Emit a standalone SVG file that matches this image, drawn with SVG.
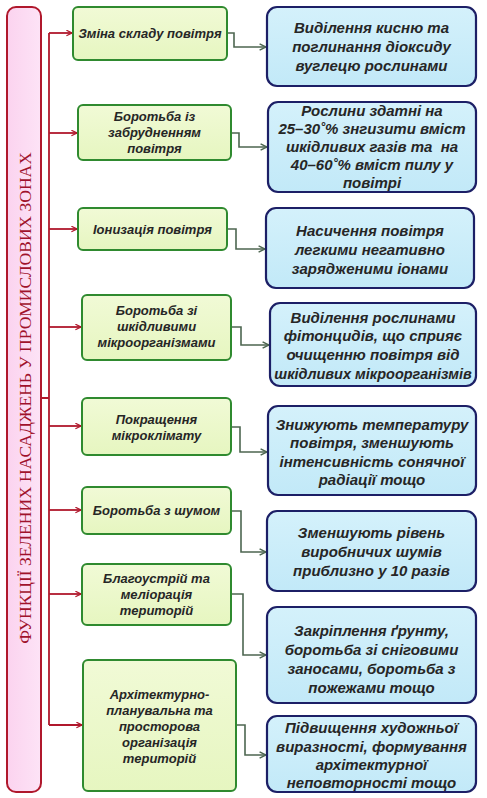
<svg xmlns="http://www.w3.org/2000/svg" width="487" height="798" viewBox="0 0 487 798">
<defs>
<linearGradient id="gG" x1="0" y1="0" x2="0" y2="1"><stop offset="0" stop-color="#f1fad6"/><stop offset="1" stop-color="#e6f6c0"/></linearGradient>
<linearGradient id="gB" x1="0" y1="0" x2="0" y2="1"><stop offset="0" stop-color="#d4f1fb"/><stop offset="1" stop-color="#c2e9f8"/></linearGradient>
<linearGradient id="gP" x1="0" y1="0" x2="1" y2="0"><stop offset="0" stop-color="#fbd3ef"/><stop offset="1" stop-color="#fde3f6"/></linearGradient>
<marker id="ar" viewBox="0 0 10 10" refX="9" refY="5" markerWidth="7" markerHeight="7" markerUnits="userSpaceOnUse" orient="auto"><path d="M1,1 L9,5 L1,9" fill="none" stroke="#b0182c" stroke-width="1.8"/></marker>
<marker id="ag" viewBox="0 0 10 10" refX="9" refY="5" markerWidth="8" markerHeight="8" markerUnits="userSpaceOnUse" orient="auto"><path d="M1,1 L9,5 L1,9" fill="none" stroke="#4d6650" stroke-width="1.8"/></marker>
</defs>
<style>
.g{fill:url(#gG);stroke:#2f8a2f;stroke-width:2}
.b{fill:url(#gB);stroke:#1c1f66;stroke-width:2.2}
.t{font-family:"Liberation Sans","Open Sans",sans-serif;font-style:italic;font-weight:bold;fill:#262626;text-anchor:middle}
.tg{font-size:13px}
.tb{font-size:15px}
.red{fill:none;stroke:#b0182c;stroke-width:1.8}
.gc{fill:none;stroke:#4d6650;stroke-width:1.6}
</style>
<rect width="487" height="798" fill="#ffffff"/>

<g id="title">
<rect x="7" y="7" width="34" height="785" rx="9" fill="url(#gP)" stroke="#b0182c" stroke-width="2"/>
<text x="0" y="0" transform="translate(30.5,398) rotate(-90)" font-family="'Liberation Serif',serif" font-size="17.5" fill="#a0122c" text-anchor="middle">ФУНКЦІЇ ЗЕЛЕНИХ НАСАДЖЕНЬ У ПРОМИСЛОВИХ ЗОНАХ</text>
</g>

<g id="connectors">
<path class="red" d="M41,398 H49 M49,33 V725"/>
<path class="red" marker-end="url(#ar)" d="M49,33 H72"/>
<path class="red" marker-end="url(#ar)" d="M49,133 H77"/>
<path class="red" marker-end="url(#ar)" d="M49,229 H77"/>
<path class="red" marker-end="url(#ar)" d="M49,327 H81"/>
<path class="red" marker-end="url(#ar)" d="M49,426 H81"/>
<path class="red" marker-end="url(#ar)" d="M49,510 H81"/>
<path class="red" marker-end="url(#ar)" d="M49,594 H81"/>
<path class="red" marker-end="url(#ar)" d="M49,725 H82"/>
<path class="gc" marker-end="url(#ag)" d="M227,33 H234 V47 H266"/>
<path class="gc" marker-end="url(#ag)" d="M231,133 H239 V147 H267"/>
<path class="gc" marker-end="url(#ag)" d="M227,229 H236 V249 H265"/>
<path class="gc" marker-end="url(#ag)" d="M231,327 H241 V345 H269"/>
<path class="gc" marker-end="url(#ag)" d="M231,427 H240 V452 H267"/>
<path class="gc" marker-end="url(#ag)" d="M231,511 H241 V552 H266"/>
<path class="gc" marker-end="url(#ag)" d="M231,594 H243 V655 H266"/>
<path class="gc" marker-end="url(#ag)" d="M236,725 H245 V755 H266"/>
</g>

<g id="f1"><rect class="g" x="73" y="7" width="154" height="53" rx="5"/>
<text class="t tg" x="150" y="38">Зміна складу повітря</text></g>
<g id="f2"><rect class="g" x="78" y="105" width="153" height="55" rx="5"/>
<text class="t tg" x="154.5" y="121">Боротьба із</text><text class="t tg" x="154.5" y="137">забрудненням</text><text class="t tg" x="154.5" y="153">повітря</text></g>
<g id="f3"><rect class="g" x="78" y="208" width="149" height="42" rx="5"/>
<text class="t tg" x="152.5" y="234">Іонизація повітря</text></g>
<g id="f4"><rect class="g" x="82" y="295" width="149" height="65" rx="5"/>
<text class="t tg" x="156.5" y="315">Боротьба зі</text><text class="t tg" x="156.5" y="331">шкідливими</text><text class="t tg" x="156.5" y="347">мікроорганізмами</text></g>
<g id="f5"><rect class="g" x="82" y="398" width="149" height="57" rx="5"/>
<text class="t tg" x="156.5" y="424">Покращення</text><text class="t tg" x="156.5" y="440">мікроклімату</text></g>
<g id="f6"><rect class="g" x="82" y="487" width="149" height="47" rx="5"/>
<text class="t tg" x="156.5" y="515">Боротьба з шумом</text></g>
<g id="f7"><rect class="g" x="82" y="564" width="149" height="61" rx="5"/>
<text class="t tg" x="156.5" y="583">Благоустрій та</text><text class="t tg" x="156.5" y="599">меліорація</text><text class="t tg" x="156.5" y="615">територій</text></g>
<g id="f8"><rect class="g" x="83" y="660" width="153" height="131" rx="5"/>
<text class="t tg" x="159.5" y="699">Архітектурно-</text><text class="t tg" x="159.5" y="715">планувальна та</text><text class="t tg" x="159.5" y="731">просторова</text><text class="t tg" x="159.5" y="747">організація</text><text class="t tg" x="159.5" y="763">територій</text></g>

<g id="d1"><rect class="b" x="267" y="7" width="209" height="79" rx="10"/>
<text class="t tb" x="371.5" y="33">Виділення кисню та</text><text class="t tb" x="371.5" y="52">поглинання діоксиду</text><text class="t tb" x="371.5" y="71">вуглецю рослинами</text></g>
<g id="d2"><rect class="b" x="268" y="102" width="208" height="90" rx="10"/>
<text class="t tb" x="372" y="116">Рослини здатні на</text><text class="t tb" x="372" y="134">25–30˚% знгизити вміст</text><text class="t tb" x="372" y="152" xml:space="preserve">шкідливих газів та  на</text><text class="t tb" x="372" y="170">40–60˚% вміст пилу у</text><text class="t tb" x="372" y="188">повітрі</text></g>
<g id="d3"><rect class="b" x="266" y="208" width="208" height="80" rx="10"/>
<text class="t tb" x="370" y="236">Насичення повітря</text><text class="t tb" x="370" y="255">легкими негативно</text><text class="t tb" x="370" y="274">зарядженими іонами</text></g>
<g id="d4"><rect class="b" x="270" y="303" width="206" height="83" rx="10"/>
<text class="t tb" x="373" y="323">Виділення рослинами</text><text class="t tb" x="373" y="341">фітонцидів, що сприяє</text><text class="t tb" x="373" y="360">очищенню повітря від</text><text class="t tb" x="373" y="379" style="font-size:14.5px">шкідливих мікроорганізмів</text></g>
<g id="d5"><rect class="b" x="268" y="406" width="208" height="89" rx="10"/>
<text class="t tb" x="372" y="430">Знижують температуру</text><text class="t tb" x="372" y="448">повітря, зменшують</text><text class="t tb" x="372" y="467">інтенсивність сонячної</text><text class="t tb" x="372" y="485">радіації тощо</text></g>
<g id="d6"><rect class="b" x="267" y="511" width="209" height="80" rx="10"/>
<text class="t tb" x="371.5" y="538">Зменшують рівень</text><text class="t tb" x="371.5" y="557">виробничих шумів</text><text class="t tb" x="371.5" y="576">приблизно у 10 разів</text></g>
<g id="d7"><rect class="b" x="267" y="607" width="209" height="96" rx="10"/>
<text class="t tb" x="371.5" y="636">Закріплення ґрунту,</text><text class="t tb" x="371.5" y="655">боротьба зі сніговими</text><text class="t tb" x="371.5" y="674">заносами, боротьба з</text><text class="t tb" x="371.5" y="693">пожежами тощо</text></g>
<g id="d8"><rect class="b" x="267" y="716" width="209" height="76" rx="10"/>
<text class="t tb" x="371.5" y="733">Підвищення художньої</text><text class="t tb" x="371.5" y="752">виразності, формування</text><text class="t tb" x="371.5" y="770">архітектурної</text><text class="t tb" x="371.5" y="788">неповторності тощо</text></g>
</svg>
